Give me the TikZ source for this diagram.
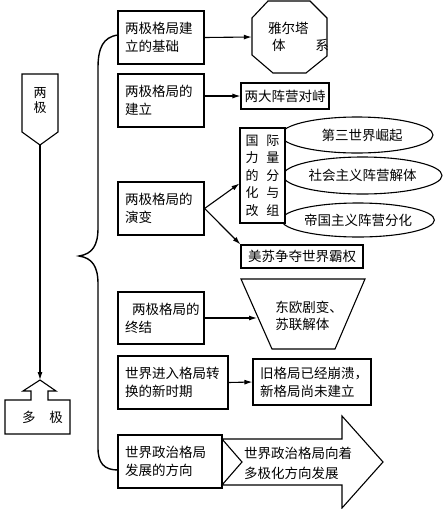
\documentclass[tikz,border=0pt]{standalone}
\usepackage{fontspec}
\setmainfont{Noto Sans CJK SC}
\usetikzlibrary{arrows.meta,calc,shapes.geometric}
\begin{document}
\begin{tikzpicture}[x=1pt,y=-1pt,
  box/.style={draw, line width=1.1pt, rectangle, fill=white, inner xsep=7pt, inner ysep=0pt, align=left, font=\fontsize{13.5}{18}\selectfont},
  arr/.style={line width=1.1pt, -{Latex[length=8pt,width=5pt]}},
  txt/.style={font=\fontsize{13.5}{17}\selectfont, inner sep=0pt},
  shp/.style={draw, line width=1.1pt, fill=white, line join=miter},
  ell/.style={draw, line width=1.1pt, ellipse, inner sep=0pt, font=\fontsize{13.5}{17}\selectfont}]
\useasboundingbox (0,0) rectangle (445,509);

% left column
\draw[shp] (22,74) -- (58,74) -- (58,132) -- (40,145) -- (22,132) -- cycle;
\node[txt, align=center, font=\fontsize{13}{15}\selectfont] (lj) at (40,101) {两\\极};
\coordinate (ljtip) at (40,145);
\draw[shp] (40,380) -- (56,391) -- (48,391) -- (48,400) -- (70,400) -- (70,434) -- (5,434) -- (5,400) -- (31,400) -- (31,391) -- (23,391) -- cycle;
\coordinate (djtop) at (40,380);
\node[txt] (dj) at (42.5,417) {多\hspace{14pt}极};
\draw[arr] (ljtip) -- (djtop);

% brace
\draw[line width=1.4pt] (118,35) .. controls (103,37) and (98,48) .. (98,68) -- (98,228)
  .. controls (98,246) and (92,254) .. (79,256)
  .. controls (92,258) and (98,266) .. (98,284) -- (98,448)
  .. controls (98,463) and (104,470) .. (118,470);

% middle boxes
\node[box, text width=72pt, minimum height=53pt] (b1) at (161,37.5) {两极格局建\\立的基础};
\node[box, text width=72pt, minimum height=53pt] (b2) at (161,100.5) {两极格局的\\建立};
\node[box, text width=72pt, minimum height=53pt] (b3) at (161,208.5) {两极格局的\\演变};
\node[box, text width=72pt, minimum height=52pt] (b4) at (161,318) {\hspace*{7pt}两极格局的\\终结};
\node[box, text width=96pt, minimum height=53pt] (b5) at (173,382.5) {世界进入格局转\\换的新时期};
\node[box, text width=90pt, minimum height=53pt] (b6) at (170,461.5) {世界政治格局\\发展的方向};

% octagon
\node[minimum width=75pt, minimum height=72pt, inner sep=0pt] (oct) at (289.5,37) {};
\draw[shp] (268,1) -- (310,1) -- (327,18) -- (327,56) -- (306,73) -- (273,73) -- (252,55) -- (252,18) -- cycle;
\node[txt, text width=57pt, align=left] (octt) at (300.5,37) {\hspace*{-4pt}雅尔塔\\体\hspace{30pt}系};
\draw[arr] (b1.east) -- (oct.west);

% two camps
\node[box, inner xsep=0pt, align=center, minimum width=88pt, minimum height=26pt] (ddz) at (285,96) {两大阵营对峙};
\draw[arr] (b2.east |- ddz.west) -- (ddz.west);

% ellipses and regrouping box
\node[ell, minimum width=152pt, minimum height=36pt] (e1) at (357,135) {\hspace*{10pt}第三世界崛起};
\node[ell, minimum width=159pt, minimum height=37pt] (e2) at (362.5,175.5) {社会主义阵营解体};
\node[ell, minimum width=150pt, minimum height=34pt] (e3) at (358,220) {帝国主义阵营分化};
\node[box, inner xsep=0pt, align=center, minimum width=45pt, minimum height=95pt, font=\fontsize{13}{17.5}\selectfont] (gj) at (262.5,175.5) {国\hspace{8pt}际\\力\hspace{8pt}量\\的\hspace{8pt}分\\化\hspace{8pt}与\\改\hspace{8pt}组};
\node[box, inner xsep=0pt, align=center, minimum width=122pt, minimum height=23pt] (ms) at (302,256.5) {美苏争夺世界霸权};
\draw[arr] (b3.east) -- ($(gj.west)+(0,8)$);
\draw[arr] (b3.east) -- (ms.north west);

% trapezoid
\draw[shp] (241,279) -- (365,279) -- (335,349) -- (272,349) -- cycle;
\node[txt, align=left] (trap) at (309,315.5) {东欧剧变、\\苏联解体};
\coordinate (trapin) at (257,318);
\draw[arr] (b4.east) -- (trapin);

% old pattern box
\node[box, text width=104pt, minimum height=46pt] (jgj) at (312,382) {旧格局已经崩溃，\\新格局尚未建立};
\draw[arr] (b5.east) -- (jgj.west);

% big arrow
\draw[shp] (222,439) -- (342,439) -- (342,416) -- (383,462) -- (342,508) -- (342,485) -- (222,485) -- (242,462) -- cycle;
\node[txt, align=left, font=\fontsize{13.5}{20}\selectfont] (fut) at (298,463) {世界政治格局向着\\多极化方向发展};
\end{tikzpicture}
\end{document}
